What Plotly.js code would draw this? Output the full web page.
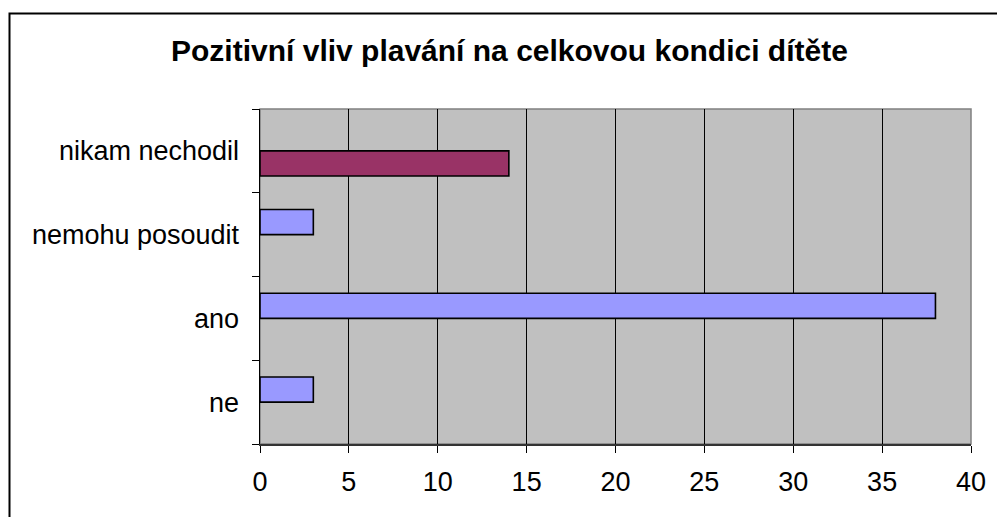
<!DOCTYPE html>
<html>
<head>
<meta charset="utf-8">
<script src="https://cdn.plot.ly/plotly-3.0.1.min.js"></script>
<style>
html,body{margin:0;padding:0;background:#fff;}
#chart{width:997px;height:517px;}
</style>
</head>
<body>
<div id="chart"></div>
<script>
var categories = ['ne', 'ano', 'nemohu posoudit', 'nikam nechodil'];
var seriesBlue = [3, 38, 3, null];
var seriesMaroon = [null, null, null, 14];
var xTicks = [0, 5, 10, 15, 20, 25, 30, 35, 40];
var titleText = 'Pozitivní vliv plavání na celkovou kondici dítěte';

var W = 997, H = 517;
var mL = 260, mR = 26, mT = 109, mB = 73;
var pw = W - mL - mR, ph = H - mT - mB;
var font = 'Liberation Sans, Arial, sans-serif';

var traces = [
  {
    type: 'bar', orientation: 'h', y: categories, x: seriesMaroon,
    marker: {color: '#993366', line: {color: '#000', width: 1.6}},
    hoverinfo: 'x+y', showlegend: false
  },
  {
    type: 'bar', orientation: 'h', y: categories, x: seriesBlue,
    marker: {color: '#9999FF', line: {color: '#000', width: 1.6}},
    hoverinfo: 'x+y', showlegend: false
  }
];

var layout = {
  width: W, height: H,
  margin: {l: mL, r: mR, t: mT, b: mB, pad: 0},
  paper_bgcolor: '#fff',
  plot_bgcolor: '#C0C0C0',
  barmode: 'group',
  bargap: 0.4,
  bargroupgap: 0,
  font: {family: font, color: '#000'},
  title: {
    text: '<b>' + titleText + '</b>',
    font: {family: font, size: 30, color: '#000'},
    xref: 'container', x: 0.511, xanchor: 'center',
    yref: 'container', y: 1 - 50 / H, yanchor: 'middle'
  },
  xaxis: {
    range: [0, 40],
    tickvals: xTicks,
    ticktext: xTicks.map(String),
    showgrid: true, gridcolor: '#000', gridwidth: 1,
    zeroline: false,
    showline: true, linecolor: '#333', linewidth: 2,
    ticks: 'outside', ticklen: 7, tickcolor: '#000', tickwidth: 1,
    ticklabelstandoff: 6,
    tickfont: {family: font, size: 27, color: '#000'},
    fixedrange: true
  },
  yaxis: {
    type: 'category',
    categoryorder: 'array', categoryarray: categories,
    tickson: 'boundaries',
    showgrid: false, zeroline: false,
    showline: true, linecolor: '#000', linewidth: 1.5,
    ticks: 'outside', ticklen: 7, tickcolor: '#000', tickwidth: 1,
    ticklabelstandoff: 14,
    tickfont: {family: font, size: 27, color: '#000'},
    fixedrange: true
  },
  shapes: [
    {
      type: 'rect', xref: 'paper', yref: 'paper', layer: 'below',
      x0: 0, x1: 1, y0: 0, y1: 1,
      line: {color: '#808080', width: 1.5}
    },
    {
      type: 'rect', xref: 'paper', yref: 'paper', layer: 'above',
      x0: (9.5 - mL) / pw, x1: (W + 10 - mL) / pw,
      y0: -(mB + 10) / ph, y1: 1 + (mT - 13.5) / ph,
      line: {color: '#000', width: 2}
    }
  ]
};

Plotly.newPlot('chart', traces, layout, {displayModeBar: false, staticPlot: true});
</script>
</body>
</html>
